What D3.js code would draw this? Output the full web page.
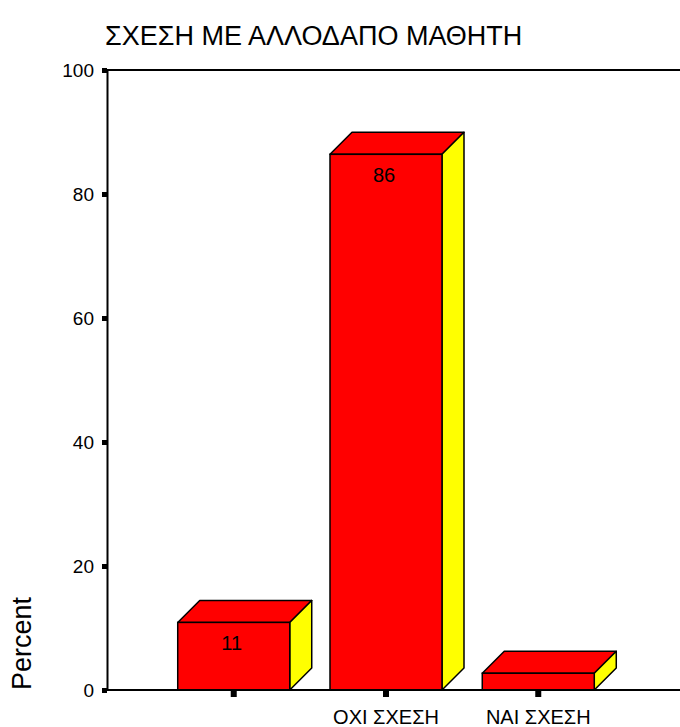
<!DOCTYPE html>
<html><head><meta charset="utf-8">
<script src="https://cdn.jsdelivr.net/npm/d3@7"></script>
<style>html,body{margin:0;padding:0;background:#fff}svg{display:block}text{font-family:"Liberation Sans",Arial,sans-serif;fill:#000}</style>
</head><body>
<script>
const title = "ΣΧΕΣΗ ΜΕ ΑΛΛΟΔΑΠΟ ΜΑΘΗΤΗ";
const categories = ["", "ΟΧΙ ΣΧΕΣΗ", "ΝΑΙ ΣΧΕΣΗ"];
const percents = [10.9, 86.4, 2.7];
const showLabel = [true, true, false];
const yTicks = [0, 20, 40, 60, 80, 100];
const yLabel = "Percent";

const W = 680, H = 727;
const svg = d3.select("body").append("svg").attr("width", W).attr("height", H);

const axisX = 107, axisRight = 680;
const y = d3.scaleLinear().domain([0, 100]).range([690, 70]);
const x = d3.scaleBand().domain(categories).range([157.6, 614.4]).paddingInner(0.2644).paddingOuter(0.1322);
const depth = 22;
const bw = x.bandwidth();

// title
svg.append("text").attr("x", 105).attr("y", 45).attr("font-size", 27).text(title);

// y label
svg.append("text").attr("transform", `translate(31,690) rotate(-90)`).attr("font-size", 27).text(yLabel);

// top frame line
svg.append("line").attr("x1", axisX).attr("x2", axisRight).attr("y1", y(100)).attr("y2", y(100))
  .attr("stroke", "#000").attr("stroke-width", 2);

// bars
const g = svg.append("g");
percents.forEach((v, i) => {
  const x0 = x(categories[i]), x1 = x0 + bw, yt = y(v), yb = y(0);
  g.append("path").attr("d", `M${x0},${yt}L${x0+depth},${yt-depth}L${x1+depth},${yt-depth}L${x1},${yt}Z`)
    .attr("fill", "#ff0000").attr("stroke", "#000").attr("stroke-width", 1.5).attr("stroke-linejoin", "round");
  g.append("path").attr("d", `M${x1},${yt}L${x1+depth},${yt-depth}L${x1+depth},${yb-depth}L${x1},${yb}Z`)
    .attr("fill", "#ffff00").attr("stroke", "#000").attr("stroke-width", 1.5).attr("stroke-linejoin", "round");
  g.append("rect").attr("x", x0).attr("y", yt).attr("width", bw).attr("height", yb - yt)
    .attr("fill", "#ff0000").attr("stroke", "#000").attr("stroke-width", 1.5);
  if (showLabel[i]) {
    g.append("text").attr("x", x0 + bw / 2 - 2).attr("y", yt + 28).attr("text-anchor", "middle")
      .attr("font-size", 20).text(d3.format(".0f")(v));
  }
});

// y axis
const yAxis = d3.axisLeft(y).tickValues(yTicks).tickSize(0).tickPadding(13).tickFormat(d3.format("d"));
const ya = svg.append("g").attr("transform", `translate(${axisX},0)`).call(yAxis);
ya.select(".domain").attr("stroke", "#000").attr("stroke-width", 2);
ya.selectAll(".tick text").attr("font-size", 19).attr("font-family", '"Liberation Sans",Arial,sans-serif').attr("fill", "#000");
ya.selectAll(".tick").append("rect").attr("x", -5).attr("y", -2.5).attr("width", 5).attr("height", 5).attr("fill", "#000");

// baseline
svg.append("line").attr("x1", axisX - 1).attr("x2", axisRight).attr("y1", y(0)).attr("y2", y(0))
  .attr("stroke", "#000").attr("stroke-width", 2);

// x axis
const xAxis = d3.axisBottom(x).tickSize(0).tickPadding(20);
const xa = svg.append("g").attr("transform", `translate(0,${y(0)})`).call(xAxis);
xa.select(".domain").remove();
xa.selectAll(".tick text").attr("font-size", 20).attr("font-family", '"Liberation Sans",Arial,sans-serif').attr("fill", "#000").attr("dy", "0.71em");
xa.selectAll(".tick").append("rect").attr("x", -3).attr("y", 1).attr("width", 6).attr("height", 6).attr("fill", "#000");
</script>
</body></html>
